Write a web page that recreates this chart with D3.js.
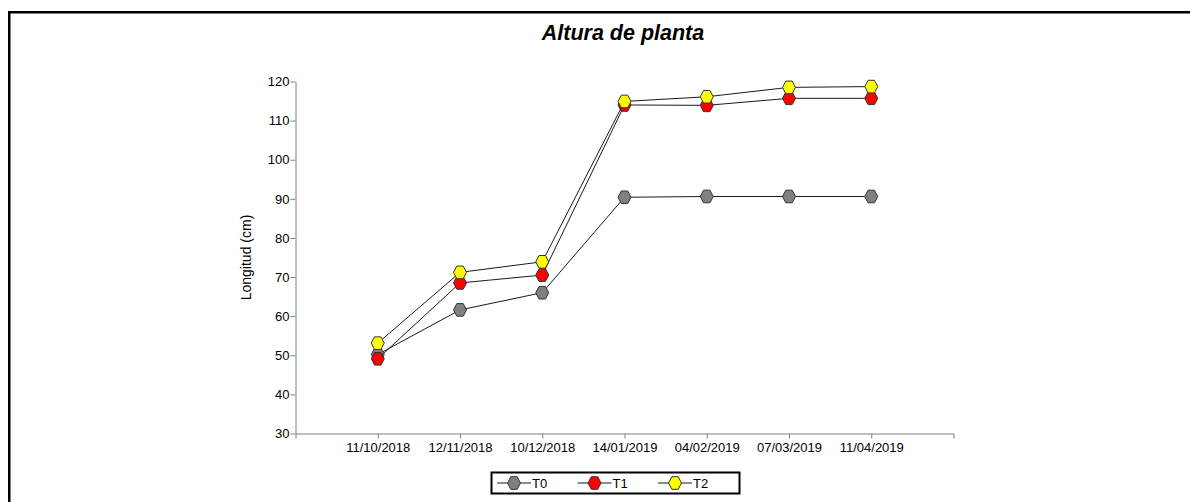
<!DOCTYPE html>
<html>
<head>
<meta charset="utf-8">
<script src="https://cdn.jsdelivr.net/npm/d3@7"></script>
<style>
  html, body { margin: 0; padding: 0; background: #fff; }
  svg { display: block; font-family: "Liberation Sans", Arial, sans-serif; }
</style>
</head>
<body>
<svg id="chart" width="1190" height="502"></svg>
<script>
// Sampling dates (category axis)
const fechas = ["11/10/2018", "12/11/2018", "10/12/2018", "14/01/2019", "04/02/2019", "07/03/2019", "11/04/2019"];

// Plant height (cm) per treatment
const T0 = [50.2, 61.6, 66.0, 90.4, 90.6, 90.6, 90.6];
const T1 = [49.1, 68.5, 70.5, 114.0, 113.9, 115.7, 115.7];
const T2 = [53.1, 71.2, 73.9, 114.9, 116.1, 118.5, 118.7];

const seriesNames = ["T0", "T1", "T2"];
const seriesColors = ["#808080", "#ff0000", "#ffff00"];
const yTicks = [30, 40, 50, 60, 70, 80, 90, 100, 110, 120];

const titulo = "Altura de planta";
const ejeY = "Longitud (cm)";

const series = [T0, T1, T2].map((vals, i) => ({
  name: seriesNames[i],
  color: seriesColors[i],
  values: vals.map((v, j) => ({ fecha: fechas[j], v }))
}));

const svg = d3.select("#chart");

// Outer frame
svg.append("rect")
  .attr("x", 9.25).attr("y", 12.25)
  .attr("width", 1200).attr("height", 520)
  .attr("fill", "none").attr("stroke", "#000").attr("stroke-width", 2.5);

const plot = { left: 295.5, right: 953.5, top: 81.5, bottom: 433.5 };

const x = d3.scalePoint().domain(fechas).range([plot.left, plot.right]).padding(1);
const y = d3.scaleLinear().domain([30, 120]).range([plot.bottom, plot.top]);

// Title
svg.append("text")
  .attr("x", 623).attr("y", 40)
  .attr("text-anchor", "middle")
  .attr("font-size", 21.5).attr("font-weight", "bold").attr("font-style", "italic")
  .text(titulo);

// Axes
const axisColor = "#808080";
const gx = svg.append("g")
  .attr("transform", `translate(0,${plot.bottom})`)
  .call(d3.axisBottom(x).tickSize(5).tickSizeOuter(5).tickPadding(4));
const gy = svg.append("g")
  .attr("transform", `translate(${plot.left},0)`)
  .call(d3.axisLeft(y).tickValues(yTicks).tickSize(5).tickSizeOuter(0).tickPadding(1));

[gx, gy].forEach(g => {
  g.select(".domain").attr("stroke", axisColor);
  g.selectAll(".tick line").attr("stroke", axisColor);
  g.selectAll(".tick text").attr("fill", "#000").attr("font-size", 13)
    .attr("font-family", "'Liberation Sans', Arial, sans-serif");
});

// Y axis title
svg.append("text")
  .attr("transform", `translate(251,${(plot.top + plot.bottom) / 2}) rotate(-90)`)
  .attr("text-anchor", "middle")
  .attr("font-size", 14)
  .text(ejeY);

// Hexagon marker, flat top and bottom
const hexPath = (cx, cy) => {
  const pts = [[-6.5, 0], [-3.2, -6.3], [3.2, -6.3], [6.5, 0], [3.2, 6.3], [-3.2, 6.3]];
  return "M" + pts.map(p => [cx + p[0], cy + p[1]].join(",")).join("L") + "Z";
};

const line = d3.line().x(d => x(d.fecha)).y(d => y(d.v));

series.forEach(s => {
  const g = svg.append("g");
  g.append("path")
    .datum(s.values)
    .attr("d", line)
    .attr("fill", "none").attr("stroke", "#1a1a1a").attr("stroke-width", 1);
  g.selectAll("path.mk")
    .data(s.values)
    .join("path")
    .attr("class", "mk")
    .attr("d", d => hexPath(x(d.fecha), y(d.v)))
    .attr("fill", s.color).attr("stroke", "#333").attr("stroke-width", 1);
});

// Legend
const leg = { x: 491.5, y: 472.5, w: 248, h: 21 };
svg.append("rect")
  .attr("x", leg.x).attr("y", leg.y).attr("width", leg.w).attr("height", leg.h)
  .attr("fill", "#fff").attr("stroke", "#000").attr("stroke-width", 2);

series.forEach((s, i) => {
  const x0 = 497 + i * 80.5;
  const cy = leg.y + leg.h / 2;
  svg.append("line")
    .attr("x1", x0).attr("x2", x0 + 34).attr("y1", cy).attr("y2", cy)
    .attr("stroke", "#1a1a1a").attr("stroke-width", 1);
  svg.append("path")
    .attr("d", hexPath(x0 + 17, cy))
    .attr("fill", s.color).attr("stroke", "#333").attr("stroke-width", 1);
  svg.append("text")
    .attr("x", x0 + 35).attr("y", cy)
    .attr("dy", "0.36em")
    .attr("font-size", 13)
    .text(s.name);
});
</script>
</body>
</html>
